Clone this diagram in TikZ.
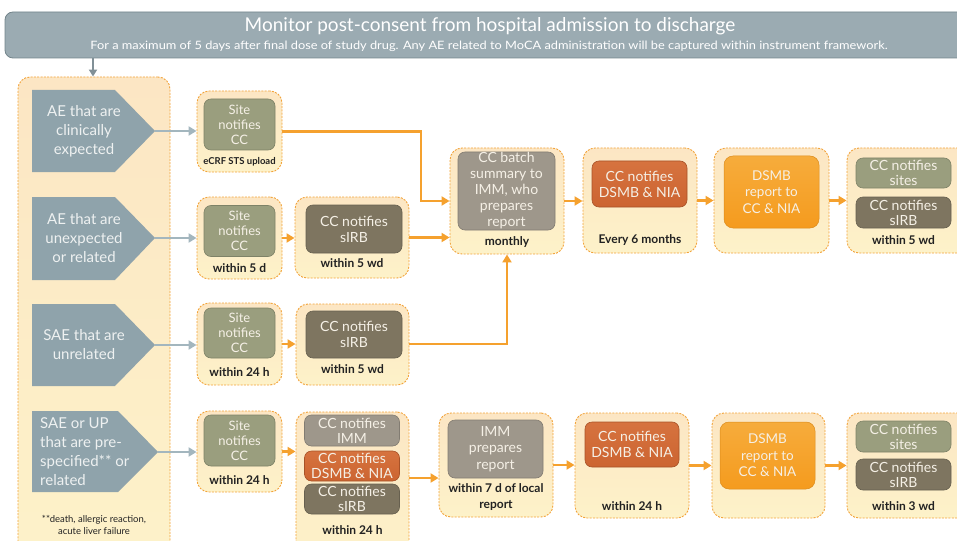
\documentclass[tikz,border=0pt]{standalone}
\usepackage{fontspec}
\setmainfont{Lato}
\usetikzlibrary{arrows.meta,calc}
\definecolor{hdrfill}{HTML}{9BABB2}
\definecolor{hdrline}{HTML}{73848B}
\definecolor{pent}{HTML}{8FA3AB}
\definecolor{garrow}{HTML}{A3B6BE}
\definecolor{contline}{HTML}{F2A33A}
\definecolor{conttop}{HTML}{FCE6C4}
\definecolor{contbot}{HTML}{FDF2C9}
\definecolor{oline}{HTML}{F5A12E}
\definecolor{sitegreen}{HTML}{9A9E7E}
\definecolor{olive}{HTML}{7E7560}
\definecolor{immgray}{HTML}{9E978B}
\definecolor{rust}{HTML}{CC6431}
\definecolor{rusttop}{HTML}{D6733F}
\definecolor{dsmbtop}{HTML}{F6AC3C}
\definecolor{dsmbbot}{HTML}{F59B1E}
\definecolor{boxtext}{HTML}{F5F0E6}
\definecolor{lbltext}{HTML}{222222}
\definecolor{penttext}{HTML}{EEF1F1}
\begin{document}
\begin{tikzpicture}[x=1pt,y=-1pt,
  cont/.style={draw=contline, dash pattern=on 2pt off 1.3pt, line width=0.9pt,
    rounded corners=12pt, top color=conttop, bottom color=contbot, inner sep=0pt},
  inbox/.style={rounded corners=7pt, draw=#1!82!black, line width=0.6pt, fill=#1,
    text=boxtext, align=center, inner sep=0pt, font=\fontsize{13}{15}\selectfont},
  rustbox/.style={rounded corners=7pt, draw=rust!82!black, line width=0.6pt,
    top color=rusttop, bottom color=rust, text=boxtext, align=center, inner sep=0pt,
    font=\fontsize{13}{15}\selectfont},
  dsmbbox/.style={rounded corners=9pt, draw=dsmbbot!90!black, line width=0.5pt,
    top color=dsmbtop, bottom color=dsmbbot, text=boxtext, align=center, inner sep=0pt,
    font=\fontsize{13.5}{16.5}\selectfont},
  lbl/.style={text=lbltext, font=\bfseries\fontsize{12}{16}\selectfont, align=center, inner sep=0pt},
  penttxt/.style={text=penttext, font=\fontsize{15}{19}\selectfont, align=center, inner sep=0pt},
  oarr/.style={draw=oline, line width=2.4pt, -{Triangle[length=8pt,width=9pt]}},
  garr/.style={draw=garrow, line width=2.4pt, -{Triangle[length=8pt,width=9pt]}}
]
\useasboundingbox (0,0) rectangle (957,540);
\clip (0,0) rectangle (957,540);

% header
\node[draw=hdrline, line width=0.8pt, fill=hdrfill, rounded corners=8pt,
  minimum width=965pt, minimum height=46pt, inner sep=0pt] (hdr) at (487.5,35) {};
\node[text=white, font=\fontsize{19}{22}\selectfont, inner sep=0pt] (ttl) at (490,26)
  {Monitor post-consent from hospital admission to discharge};
\node[text=white, font=\fontsize{12.8}{14}\selectfont, inner sep=0pt] (sub) at (489,46)
  {\scalebox{1}[0.9]{For a maximum of 5 days after final dose of study drug. Any AE related to MoCA administration will be captured within instrument framework.}};

% left column
\node[cont, minimum width=152pt, minimum height=483pt] (L) at (94,318.5) {};
\draw[draw=hdrline!90, line width=2pt, -{Triangle[length=7pt,width=8pt]}] (hdr.south -| 93,0) -- (L.north -| 93,0);

% pentagons
\fill[pent] (32,90) -- (115,90) -- (155,131) -- (115,172) -- (32,172) -- cycle;
\coordinate (p1) at (155,131);
\node[penttxt] (t1) at (84,131) {AE that are\\clinically\\expected};
\fill[pent] (32,197) -- (115,197) -- (155,238) -- (115,280) -- (32,280) -- cycle;
\coordinate (p2) at (155,238);
\node[penttxt] (t2) at (84,238) {AE that are\\unexpected\\or related};
\fill[pent] (32,304) -- (115,304) -- (155,345) -- (115,386) -- (32,386) -- cycle;
\coordinate (p3) at (155,345);
\node[penttxt] (t3) at (84,345) {SAE that are\\unrelated};
\fill[pent] (32,411) -- (118,411) -- (158,452) -- (118,492) -- (32,492) -- cycle;
\coordinate (p4) at (158,452);
\node[penttxt, align=left, anchor=west] (t4) at (40,452) {SAE or UP\\that are pre-\\specified** or\\related};
\node[text=lbltext, font=\fontsize{9.5}{12}\selectfont, align=center, inner sep=0pt] (fn) at (94,525)
  {**death, allergic reaction,\\acute liver failure};

% site containers
\node[cont, minimum width=85pt, minimum height=81pt] (s1) at (239.5,131.5) {};
\node[cont, minimum width=85pt, minimum height=82pt] (s2) at (239.5,238) {};
\node[cont, minimum width=85pt, minimum height=82pt] (s3) at (239.5,344) {};
\node[cont, minimum width=85pt, minimum height=81pt] (s4) at (239.5,451.5) {};
\node[inbox=sitegreen, minimum width=71pt, minimum height=51pt] (s1in) at (239.5,124.5) {Site\\notifies\\CC};
\node[inbox=sitegreen, minimum width=71pt, minimum height=51pt] (s2in) at (239.5,231) {Site\\notifies\\CC};
\node[inbox=sitegreen, minimum width=71pt, minimum height=50pt] (s3in) at (239.5,333) {Site\\notifies\\CC};
\node[inbox=sitegreen, minimum width=71pt, minimum height=51pt] (s4in) at (239.5,440.5) {Site\\notifies\\CC};
\node[lbl, font=\bfseries\fontsize{9.5}{12}\selectfont] (s1l) at (239.5,162) {eCRF STS upload};
\node[lbl] (s2l) at (239.5,268) {within 5 d};
\node[lbl] (s3l) at (239.5,372) {within 24 h};
\node[lbl] (s4l) at (239.5,480) {within 24 h};

% sIRB containers
\node[cont, minimum width=114pt, minimum height=81pt] (i2) at (352,237.5) {};
\node[cont, minimum width=113pt, minimum height=81pt] (i3) at (352.5,344.5) {};
\node[cont, minimum width=113pt, minimum height=148pt] (i4) at (352.5,486) {};
\node[inbox=olive, minimum width=96pt, minimum height=48pt, font=\fontsize{14}{16}\selectfont] (i2in) at (354,229) {CC notifies\\sIRB};
\node[inbox=olive, minimum width=96pt, minimum height=47pt, font=\fontsize{14}{16}\selectfont] (i3in) at (354,334.5) {CC notifies\\sIRB};
\node[inbox=immgray, minimum width=95pt, minimum height=31pt, font=\fontsize{14}{15}\selectfont] (i4a) at (352,430.5) {CC notifies\\IMM};
\node[rustbox, minimum width=95pt, minimum height=30pt, font=\fontsize{14}{15}\selectfont] (i4b) at (352,466) {CC notifies\\DSMB \& NIA};
\node[inbox=olive, minimum width=95pt, minimum height=30pt, font=\fontsize{14}{15}\selectfont] (i4c) at (352,499) {CC notifies\\sIRB};
\node[lbl] (i2l) at (352,263) {within 5 wd};
\node[lbl] (i3l) at (352.5,369) {within 5 wd};
\node[lbl] (i4l) at (352.5,530) {within 24 h};

% row 1 right side
\node[cont, minimum width=114pt, minimum height=106pt] (b) at (507,201) {};
\node[inbox=immgray, minimum width=97pt, minimum height=78pt, font=\fontsize{14}{16}\selectfont] (bin) at (506.5,191) {CC batch\\summary to\\IMM, who\\prepares\\report};
\node[lbl] (bl) at (507,242) {monthly};
\node[cont, minimum width=114pt, minimum height=105pt] (m6) at (640,200.5) {};
\node[rustbox, minimum width=95pt, minimum height=46pt, font=\fontsize{14}{16}\selectfont] (m6in) at (639.5,184) {CC notifies\\DSMB \& NIA};
\node[lbl] (m6l) at (640,240) {Every 6 months};
\node[cont, minimum width=115pt, minimum height=105pt] (d1) at (771.5,200.5) {};
\node[dsmbbox, minimum width=95pt, minimum height=72pt] (d1in) at (771.5,192) {DSMB\\report to\\CC \& NIA};
\node[cont, minimum width=123pt, minimum height=105pt] (f1) at (908.5,200.5) {};
\node[inbox=sitegreen, minimum width=95pt, minimum height=30pt, font=\fontsize{14}{15}\selectfont] (f1a) at (903.5,173) {CC notifies\\sites};
\node[inbox=olive, minimum width=95pt, minimum height=31pt, font=\fontsize{14}{15}\selectfont] (f1b) at (903.5,212.5) {CC notifies\\sIRB};
\node[lbl] (f1l) at (903.5,240) {within 5 wd};

% row 4 right side
\node[cont, minimum width=114pt, minimum height=104pt] (r4i) at (496,465) {};
\node[inbox=immgray, minimum width=95pt, minimum height=58pt, font=\fontsize{14}{16.5}\selectfont] (r4iin) at (495.5,449) {IMM\\prepares\\report};
\node[lbl] (r4il) at (496,497) {within 7 d of local\\report};
\node[cont, minimum width=114pt, minimum height=105pt] (r4m) at (632,465.5) {};
\node[rustbox, minimum width=94pt, minimum height=45pt, font=\fontsize{14}{16}\selectfont] (r4min) at (632,444.5) {CC notifies\\DSMB \& NIA};
\node[lbl] (r4ml) at (632,506) {within 24 h};
\node[cont, minimum width=113pt, minimum height=105pt] (r4d) at (768.5,465.5) {};
\node[dsmbbox, minimum width=95pt, minimum height=67pt] (r4din) at (767.5,455.5) {DSMB\\report to\\CC \& NIA};
\node[cont, minimum width=123pt, minimum height=105pt] (r4f) at (908.5,465.5) {};
\node[inbox=sitegreen, minimum width=95pt, minimum height=31pt, font=\fontsize{14}{15}\selectfont] (r4fa) at (903.5,436.5) {CC notifies\\sites};
\node[inbox=olive, minimum width=95pt, minimum height=31pt, font=\fontsize{14}{15}\selectfont] (r4fb) at (903.5,474.5) {CC notifies\\sIRB};
\node[lbl] (r4fl) at (903.5,506) {within 3 wd};

% gray connectors
\draw[garr] (p1) -- (p1 -| s1.west);
\draw[garr] (p2) -- (p2 -| s2.west);
\draw[garr] (p3) -- (p3 -| s3.west);
\draw[garr] (p4) -- (p4 -| s4.west);

% orange connectors
\coordinate (k1) at (421,131.5);
\draw[oarr] (s1.east) -- (k1) |- (b.west);
\draw[oarr] (s2.east) -- (s2.east -| i2.west);
\draw[oarr] (i2.east) -- (i2.east -| b.west);
\draw[oarr] (s3.east) -- (s3.east -| i3.west);
\draw[oarr] (i3.east |- s3.east) -| (b.south);
\draw[oarr] (s4.east) -- (s4.east -| i4.west);
\draw[oarr] (i4.east |- 0,478) -- (r4i.west |- 0,478);
\draw[oarr] (r4i.east) -- (r4i.east -| r4m.west);
\draw[oarr] (r4m.east) -- (r4m.east -| r4d.west);
\draw[oarr] (r4d.east) -- (r4d.east -| r4f.west);
\draw[oarr] (b.east) -- (b.east -| m6.west);
\draw[oarr] (m6.east) -- (m6.east -| d1.west);
\draw[oarr] (d1.east) -- (d1.east -| f1.west);
\end{tikzpicture}
\end{document}
